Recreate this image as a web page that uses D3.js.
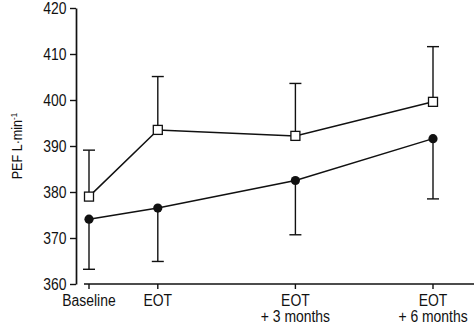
<!DOCTYPE html>
<html>
<head>
<meta charset="utf-8">
<script src="https://cdn.jsdelivr.net/npm/d3@7"></script>
<style>
  html, body { margin: 0; padding: 0; background: #fff; }
  svg { display: block; }
  text { font-family: "Liberation Sans", Arial, sans-serif; fill: #111; }
</style>
</head>
<body>
<svg id="chart" width="474" height="324"></svg>
<script>
// ---- data ----
const categories = ["Baseline", "EOT", "EOT\n+ 3 months", "EOT\n+ 6 months"];
const months = [-1.5, 0, 3, 6];              // time position of each category
const openMean = [379.0, 393.5, 392.2, 399.6]; // open squares
const openUpper = [389.1, 405.1, 403.6, 411.6];
const filledMean = [374.1, 376.5, 382.5, 391.6]; // filled circles
const filledLower = [363.2, 364.9, 370.7, 378.5];
const yTicks = [360, 370, 380, 390, 400, 410, 420];

// ---- layout ----
const svg = d3.select("#chart");
const x = d3.scaleLinear().domain([-1.5, 6]).range([89, 433]);
const y = d3.scaleLinear().domain([360, 420]).range([284, 8]);
const ink = "#111";
const sx = 0.87; // horizontal compression to mimic condensed type

// y axis
const yAxis = svg.append("g").attr("transform", "translate(76,0)")
  .call(d3.axisLeft(y).tickValues(yTicks).tickSize(6).tickPadding(3).tickSizeOuter(0));
yAxis.select(".domain").attr("stroke", ink).attr("stroke-width", 1.7);
yAxis.selectAll(".tick line").attr("stroke", ink).attr("stroke-width", 1.4);
yAxis.selectAll(".tick text")
  .attr("font-size", 16).attr("font-family", "Liberation Sans, Arial, sans-serif").attr("fill", ink)
  .attr("x", -9.5 / sx).attr("transform", `scale(${sx},1)`);

// x axis line (offset from y axis)
svg.append("line").attr("x1", 84).attr("x2", 474).attr("y1", 284).attr("y2", 284)
  .attr("stroke", ink).attr("stroke-width", 1.7);
svg.selectAll(".xtick").data(months).join("line")
  .attr("x1", d => x(d)).attr("x2", d => x(d)).attr("y1", 284).attr("y2", 289)
  .attr("stroke", ink).attr("stroke-width", 1.4);
const xl = svg.selectAll(".xlab").data(categories).join("text")
  .attr("text-anchor", "middle").attr("font-size", 16)
  .attr("transform", (d, i) => `translate(${x(months[i])},305.5) scale(${sx},1)`);
xl.each(function(d) {
  const lines = d.split("\n");
  d3.select(this).selectAll("tspan").data(lines).join("tspan")
    .attr("x", 0).attr("y", (l, j) => j * 16.5).text(l => l);
});

// y label
const yl = svg.append("text").attr("transform", "translate(21.5,146) rotate(-90) scale(0.9,1)")
  .attr("text-anchor", "middle").attr("font-size", 14);
yl.append("tspan").text("PEF  L·min");
yl.append("tspan").attr("dy", -5).attr("font-size", 9).text("-1");

// error bars
function errBars(means, bounds) {
  const g = svg.append("g").attr("stroke", ink).attr("stroke-width", 1.4);
  g.selectAll(".v").data(means).join("line")
    .attr("x1", (d, i) => x(months[i])).attr("x2", (d, i) => x(months[i]))
    .attr("y1", d => y(d)).attr("y2", (d, i) => y(bounds[i]));
  g.selectAll(".c").data(bounds).join("line")
    .attr("x1", (d, i) => x(months[i]) - 6).attr("x2", (d, i) => x(months[i]) + 6)
    .attr("y1", d => y(d)).attr("y2", d => y(d));
}
errBars(openMean, openUpper);
errBars(filledMean, filledLower);

// lines
const line = d3.line().x((d, i) => x(months[i])).y(d => y(d));
svg.append("path").datum(openMean).attr("d", line).attr("fill", "none")
  .attr("stroke", ink).attr("stroke-width", 1.5);
svg.append("path").datum(filledMean).attr("d", line).attr("fill", "none")
  .attr("stroke", ink).attr("stroke-width", 1.5);

// markers
svg.selectAll(".sq").data(openMean).join("rect")
  .attr("x", (d, i) => x(months[i]) - 4.5).attr("y", d => y(d) - 4.5)
  .attr("width", 9).attr("height", 9)
  .attr("fill", "#fff").attr("stroke", ink).attr("stroke-width", 1.3);
svg.selectAll(".ci").data(filledMean).join("circle")
  .attr("cx", (d, i) => x(months[i])).attr("cy", d => y(d)).attr("r", 4.6)
  .attr("fill", ink);
</script>
</body>
</html>
